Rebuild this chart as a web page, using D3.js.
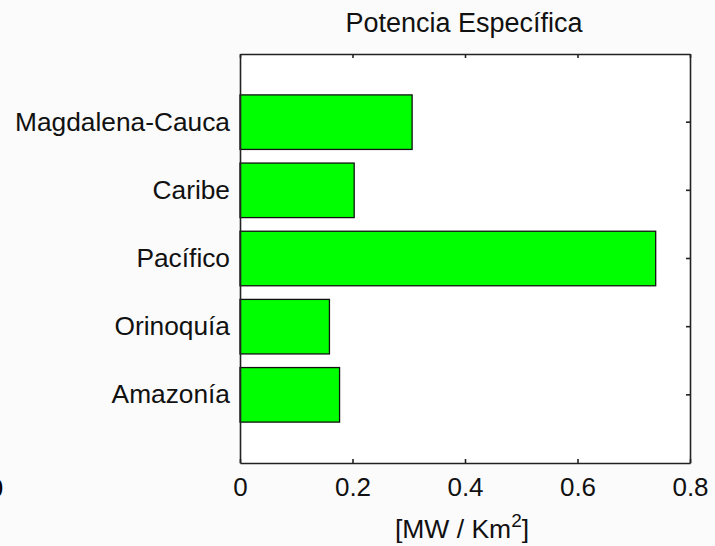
<!DOCTYPE html>
<html>
<head>
<meta charset="utf-8">
<script src="https://cdn.jsdelivr.net/npm/d3@7"></script>
<style>
  body { margin: 0; background: #fbfbfb; }
  svg { display: block; font-family: "Liberation Sans", Arial, sans-serif; }
</style>
</head>
<body>
<div id="chart"></div>
<script>
// data
const regions = ["Magdalena-Cauca", "Caribe", "Pacífico", "Orinoquía", "Amazonía"];
const potencia = [0.306, 0.203, 0.739, 0.159, 0.177];
const xTicks = [0, 0.2, 0.4, 0.6, 0.8];

const W = 715, H = 546;
const margin = { top: 54, right: 25, bottom: 83, left: 240 };
const width = W - margin.left - margin.right,
    height = H - margin.top - margin.bottom;

const svg = d3.select("#chart").append("svg")
    .attr("width", W)
    .attr("height", H);

// stray tick label from a neighbouring plot, cut by the left edge
svg.append("text")
    .attr("x", -4).attr("y", 497)
    .style("text-anchor", "middle")
    .style("font-size", "26px")
    .text("0");

const g = svg.append("g")
    .attr("transform", `translate(${margin.left},${margin.top})`);

const x = d3.scaleLinear().domain([0, 0.8]).range([0, width]);
const y = d3.scaleBand().domain(regions).range([0, height])
    .paddingInner(0.2).paddingOuter(0.6);

// plot background
g.append("rect")
    .attr("width", width)
    .attr("height", height)
    .style("fill", "#fff");

// bars
g.selectAll(".bar")
    .data(regions)
    .enter().append("rect")
    .attr("class", "bar")
    .attr("x", x(0))
    .attr("y", d => y(d))
    .attr("width", (d, i) => x(potencia[i]) - x(0))
    .attr("height", y.bandwidth())
    .style("fill", "#00ff00")
    .style("stroke", "#111")
    .style("stroke-width", 1.3);

function styleAxis(sel, size) {
    sel.select(".domain").style("stroke", "#222").style("stroke-width", 1.6);
    sel.selectAll(".tick line").style("stroke", "#222").style("stroke-width", 1.6);
    sel.selectAll("text").style("font-size", size).style("fill", "#111")
        .style("font-family", "'Liberation Sans', Arial, sans-serif");
}

// bottom axis
const xb = g.append("g")
    .attr("transform", `translate(0,${height})`)
    .call(d3.axisBottom(x).tickValues(xTicks).tickFormat(d3.format("~g"))
        .tickSizeInner(-4).tickSizeOuter(0).tickPadding(15));
styleAxis(xb, "26px");

// top axis (ticks only)
const xt = g.append("g")
    .call(d3.axisTop(x).tickValues(xTicks).tickFormat("")
        .tickSizeInner(-4).tickSizeOuter(0));
styleAxis(xt, "26px");

// left axis with category names
const yl = g.append("g")
    .call(d3.axisLeft(y).tickSizeInner(0).tickSizeOuter(0).tickPadding(10));
styleAxis(yl, "26.3px");

// right axis (ticks only)
const yr = g.append("g")
    .attr("transform", `translate(${width},0)`)
    .call(d3.axisRight(y).tickFormat("").tickSizeInner(-4).tickSizeOuter(0));
styleAxis(yr, "26px");

// title
svg.append("text")
    .attr("x", margin.left + width / 2 - 1)
    .attr("y", 32)
    .style("text-anchor", "middle")
    .style("font-size", "27px")
    .style("fill", "#111")
    .text("Potencia Específica");

// x label
const xl = svg.append("text")
    .attr("x", margin.left + width / 2 - 3)
    .attr("y", 538)
    .style("text-anchor", "middle")
    .style("font-size", "26.5px")
    .style("fill", "#111");
xl.append("tspan").text("[MW / Km");
xl.append("tspan").attr("dy", -11).style("font-size", "19px").text("2");
xl.append("tspan").attr("dy", 11).text("]");
</script>
</body>
</html>
